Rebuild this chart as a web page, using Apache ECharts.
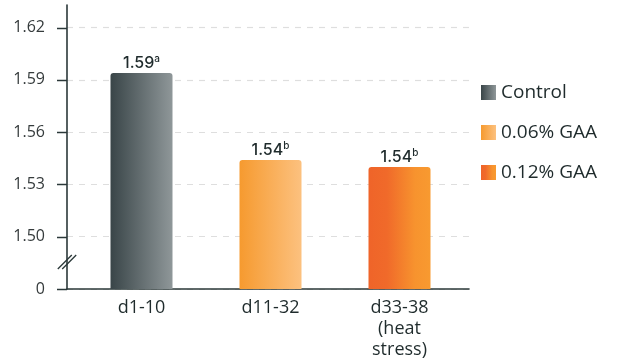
<!DOCTYPE html>
<html>
<head>
<meta charset="utf-8">
<script src="https://cdn.jsdelivr.net/npm/echarts@6/dist/echarts.min.js"></script>
<style>
  html, body { margin: 0; padding: 0; background: #ffffff; }
  #chart { width: 621px; height: 363px; }
</style>
</head>
<body>
<div id="chart"></div>
<script>
// Periods on the x axis
const categories = ['d1-10', 'd11-32', 'd33-38\n(heat\nstress)'];

// Feed conversion values per treatment (one bar each)
const seriesNames = ['Control', '0.06% GAA', '0.12% GAA'];
const controlValues = [1.594, null, null];
const gaa006Values = [null, 1.544, null];
const gaa012Values = [null, null, 1.540];
const significance = ['a', 'b', 'b'];

// Broken y axis: the bottom tick stands for zero
const tickValues = [1.47, 1.50, 1.53, 1.56, 1.59, 1.62];
const tickLabels = ['0', '1.50', '1.53', '1.56', '1.59', '1.62'];

const FONT = '"Open Sans", "DejaVu Sans", sans-serif';
const LABEL_FONT = 'Inter, "Open Sans", sans-serif';
const AXIS_COLOR = '#2b3839';
const TEXT_DARK = '#1f2b2c';

function hGrad(stops) {
  return new echarts.graphic.LinearGradient(0, 0, 1, 0,
    stops.map(s => ({ offset: s[0], color: s[1] })));
}
const fills = [
  hGrad([[0, '#394548'], [1, '#8f9799']]),
  hGrad([[0, '#f69a2f'], [1, '#fcc17f']]),
  hGrad([[0, '#ef6429'], [0.3, '#f06a2a'], [0.75, '#f7932e'], [1, '#f89a30']])
];

const yRange = { min: 1.47, max: 1.633 };

function tickIndex(v) {
  return tickValues.findIndex(t => Math.abs(t - v) < 1e-6);
}

function labelFor(i) {
  return function (p) {
    return '{v|' + Number(p.value).toFixed(2) + '}{s|' + significance[i] + '}';
  };
}

const dataSets = [controlValues, gaa006Values, gaa012Values];
const series = dataSets.map((vals, i) => ({
  name: seriesNames[i],
  type: 'bar',
  xAxisIndex: 1,
  yAxisIndex: 1,
  barWidth: 62,
  barGap: '-100%',
  data: vals.map(v => (v == null ? '-' : v)),
  itemStyle: { color: fills[i], borderRadius: [3, 3, 0, 0] },
  label: {
    show: true,
    position: 'top',
    distance: 1,
    formatter: labelFor(i),
    rich: {
      v: { fontFamily: LABEL_FONT, fontSize: 16, fontWeight: 500, color: TEXT_DARK },
      s: { fontFamily: LABEL_FONT, fontSize: 10, fontWeight: 500, color: TEXT_DARK, verticalAlign: 'top', padding: [0, 0, 8, 0] }
    }
  },
  emphasis: { disabled: true }
}));

const chart = echarts.init(document.getElementById('chart'), null, { renderer: 'canvas' });

chart.setOption({
  animation: false,
  backgroundColor: '#ffffff',
  textStyle: { fontFamily: FONT },
  grid: [
    // frame: axes, ticks and dashed guides
    { left: 67, right: 152, top: 5, bottom: 74 },
    // bars and category labels
    { left: 77, right: 157, top: 5, bottom: 74 }
  ],
  xAxis: [
    {
      gridIndex: 0, type: 'category', data: [''],
      axisLine: { show: true, lineStyle: { color: AXIS_COLOR, width: 1.6 } },
      axisTick: { show: false }, axisLabel: { show: false }, splitLine: { show: false }
    },
    {
      gridIndex: 1, type: 'category', data: categories,
      axisLine: { show: false }, axisTick: { show: false },
      axisLabel: {
        fontFamily: FONT, fontSize: 18, color: TEXT_DARK, margin: 8, lineHeight: 21
      }
    }
  ],
  yAxis: [
    {
      gridIndex: 0, type: 'value', min: yRange.min, max: yRange.max, interval: 0.03,
      axisLine: { show: true, lineStyle: { color: AXIS_COLOR, width: 1.6 } },
      axisTick: { show: false },
      axisLabel: {
        fontFamily: FONT, fontSize: 16, color: '#353b3c', margin: 22,
        showMaxLabel: false,
        formatter: function (v) {
          const idx = tickIndex(v);
          return idx >= 0 ? tickLabels[idx] : '';
        }
      },
      splitLine: {
        show: true, showMaxLine: false,
        lineStyle: { color: '#dedede', type: [6, 6], width: 1.2 }
      }
    },
    {
      gridIndex: 1, type: 'value', min: yRange.min, max: yRange.max, show: false,
      splitLine: { show: false }
    }
  ],
  legend: {
    orient: 'vertical',
    left: 476,
    top: 78,
    itemWidth: 15,
    itemHeight: 15,
    itemGap: 21,
    icon: 'rect',
    textStyle: { fontFamily: FONT, fontSize: 19, color: TEXT_DARK },
    data: seriesNames,
    selectedMode: false
  },
  series: series
});

// Outward tick marks at the labelled values, plus the "//" axis-break marker
(function drawAxisDecor() {
  const grid = chart.getModel().getComponent('grid', 0).coordinateSystem.getRect();
  const ax = grid.x;
  const els = [];
  tickValues.forEach(v => {
    const y = Math.round(chart.convertToPixel({ yAxisIndex: 0 }, v)) + 0.5;
    els.push({
      type: 'line',
      shape: { x1: ax - 10, y1: y, x2: ax, y2: y },
      style: { stroke: AXIS_COLOR, lineWidth: 1.5 },
      silent: true, z: 10
    });
  });
  const yMid = chart.convertToPixel({ yAxisIndex: 0 }, 1.4855);
  [-2.2, 2.2].forEach(dx => {
    els.push({
      type: 'line',
      shape: { x1: ax + dx - 7, y1: yMid + 7, x2: ax + dx + 7, y2: yMid - 7 },
      style: { stroke: AXIS_COLOR, lineWidth: 1.3 },
      silent: true, z: 10
    });
  });
  chart.setOption({ graphic: els });
})();
</script>
</body>
</html>
